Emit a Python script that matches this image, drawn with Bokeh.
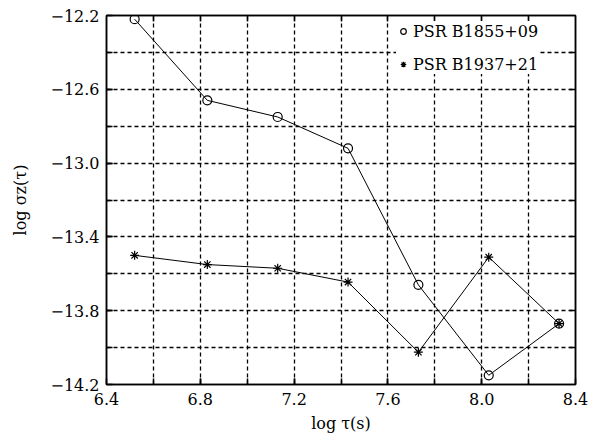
from bokeh.plotting import figure
from bokeh.models import FixedTicker, LinearAxis, Range1d, Legend, LegendItem
from bokeh.embed import file_html
from bokeh.resources import INLINE

# ---- data ----
log_tau = [6.52, 6.83, 7.13, 7.43, 7.73, 8.03, 8.33]
b1855 = [-12.22, -12.66, -12.75, -12.92, -13.66, -14.15, -13.87]
b1937 = [-13.50, -13.55, -13.57, -13.645, -14.025, -13.51, -13.87]

series_names = ["PSR B1855+09", "PSR B1937+21"]

x_major = [6.4, 6.8, 7.2, 7.6, 8.0, 8.4]
x_tick_labels = ["6.4", "6.8", "7.2", "7.6", "8.0", "8.4"]
x_minor = [6.6, 6.8, 7.0, 7.2, 7.4, 7.6, 7.8, 8.0, 8.2]

y_major = [-12.2, -12.6, -13.0, -13.4, -13.8, -14.2]
y_tick_labels = ["\u221212.2", "\u221212.6", "\u221213.0", "\u221213.4", "\u221213.8", "\u221214.2"]
y_minor = [-12.4, -12.6, -12.8, -13.0, -13.2, -13.4, -13.6, -13.8, -14.0]

FONT = "DejaVu Serif"

p = figure(width=602, height=442,
           x_range=Range1d(6.4, 8.4), y_range=Range1d(-14.2, -12.2),
           output_backend="svg", toolbar_location=None,
           min_border_left=106, min_border_right=27,
           min_border_top=15, min_border_bottom=58)

p.background_fill_color = "white"
p.border_fill_color = "white"
p.outline_line_color = "black"
p.outline_line_width = 1.5
p.outline_line_alpha = 1.0

xt = FixedTicker(ticks=x_major, minor_ticks=x_minor)
yt = FixedTicker(ticks=y_major, minor_ticks=y_minor)
xt_top = FixedTicker(ticks=[], minor_ticks=x_minor)
yt_right = FixedTicker(ticks=[], minor_ticks=y_minor)


def style_axis(ax, ticker, labels=None):
    ax.ticker = ticker
    ax.axis_line_color = "black"
    ax.axis_line_width = 1.5
    ax.major_tick_in = 6
    ax.major_tick_out = 0
    ax.minor_tick_in = 6
    ax.minor_tick_out = 0
    ax.major_tick_line_color = "black"
    ax.major_tick_line_width = 1.5
    ax.minor_tick_line_color = "black"
    ax.minor_tick_line_width = 1.5
    ax.major_label_text_font = FONT
    ax.major_label_text_font_size = "16px"
    ax.major_label_text_color = "black"
    ax.axis_label_text_font = FONT
    ax.axis_label_text_font_size = "16px"
    ax.axis_label_text_font_style = "normal"
    ax.axis_label_text_color = "black"
    if labels is not None:
        ax.major_label_overrides = labels


style_axis(p.xaxis[0], xt, {v: s for v, s in zip(x_major, x_tick_labels)})
style_axis(p.yaxis[0], yt, {v: s for v, s in zip(y_major, y_tick_labels)})
p.xaxis[0].axis_label = "log \u03c4(s)"
p.xaxis[0].major_label_standoff = 8
p.xaxis[0].axis_label_standoff = 6
p.yaxis[0].axis_label = "log \u03c3z(\u03c4)"
p.yaxis[0].major_label_standoff = 7
p.yaxis[0].axis_label_standoff = 17

# top / right axes: only inward tick marks (minor ticks), no labels
top_ax = LinearAxis()
style_axis(top_ax, xt_top)
top_ax.major_label_standoff = 0
p.add_layout(top_ax, "above")

right_ax = LinearAxis()
style_axis(right_ax, yt_right)
right_ax.major_label_standoff = 0
p.add_layout(right_ax, "right")

for g, t in ((p.xgrid[0], xt), (p.ygrid[0], yt)):
    g.ticker = t
    g.grid_line_color = None
    g.minor_grid_line_color = "black"
    g.minor_grid_line_width = 1.3
    g.minor_grid_line_dash = "4 3"

# series
p.line(log_tau, b1855, line_color="black", line_width=1)
r1 = p.scatter(log_tau, b1855, marker="circle", size=9,
               fill_color=None, line_color="black", line_width=1.2)
p.line(log_tau, b1937, line_color="black", line_width=1)
r2 = p.scatter(log_tau, b1937, marker="asterisk", size=9,
               line_color="black", line_width=1.2)

legend = Legend(items=[LegendItem(label=series_names[0], renderers=[r1]),
                       LegendItem(label=series_names[1], renderers=[r2])],
                location=(290, 310))
legend.border_line_color = None
legend.background_fill_color = "white"
legend.background_fill_alpha = 1.0
legend.label_text_font = FONT
legend.label_text_font_size = "16px"
legend.label_text_color = "black"
legend.glyph_width = 14
legend.glyph_height = 20
legend.label_standoff = 3
legend.spacing = 13
legend.padding = 7
legend.margin = 0
p.add_layout(legend)

open("out.html", "w").write(file_html(p, INLINE))
